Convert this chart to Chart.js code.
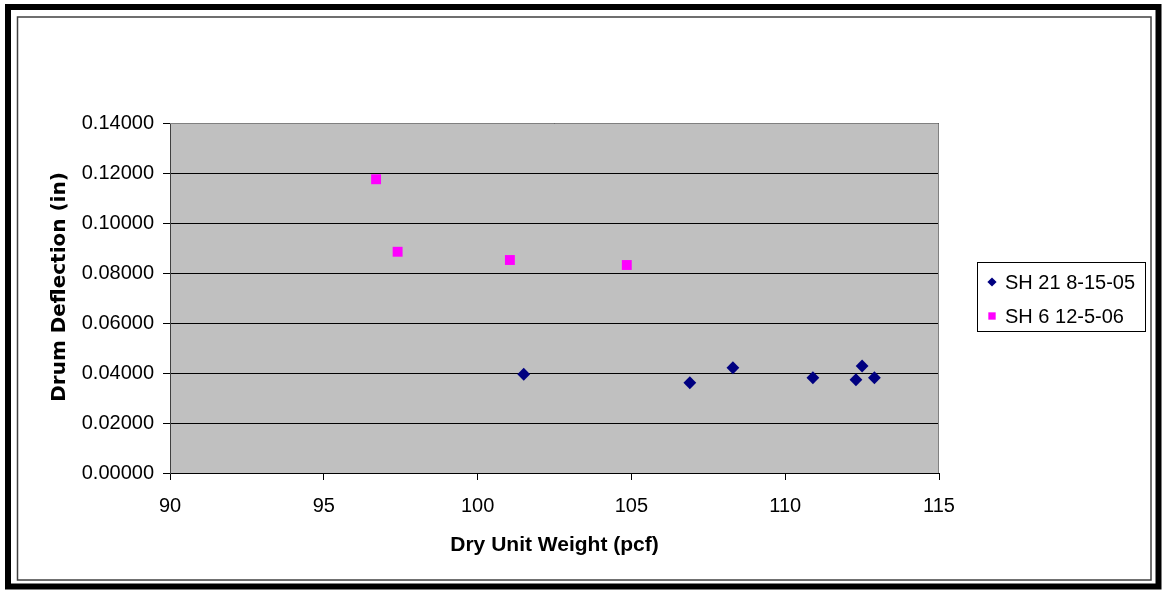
<!DOCTYPE html>
<html>
<head>
<meta charset="utf-8">
<script src="https://cdn.jsdelivr.net/npm/chart.js@4/dist/chart.umd.min.js"></script>
<style>
  html, body { margin: 0; padding: 0; background: #fff; }
  canvas { display: block; }
</style>
</head>
<body>
<canvas id="deflection-chart" width="1165" height="592"></canvas>
<script>
// Drum deflection vs dry unit weight, two test sections
const seriesLabels = ["SH 21 8-15-05", "SH 6 12-5-06"]
const sh21Weight = [101.5, 106.9, 108.3, 110.9, 112.3, 112.5, 112.9]
const sh21Deflection = [0.0395, 0.0361, 0.0421, 0.0381, 0.0373, 0.0428, 0.0381]
const sh6Weight = [96.7, 97.4, 101.05, 104.85]
const sh6Deflection = [0.1175, 0.0885, 0.0852, 0.0832]
const xTicks = [90, 95, 100, 105, 110, 115]
const yTicks = [0, 0.02, 0.04, 0.06, 0.08, 0.10, 0.12, 0.14]
const yTitle = 'Drum Deflection (in)'

function toPoints(xs, ys) {
    return xs.map((x, i) => ({ x: x, y: ys[i] }))
}

// fond gris de la zone de tracé + cadre de la page
const frame = {
    id: 'frame',
    beforeDraw(chart) {
        const c = chart.ctx
        const a = chart.chartArea
        c.save()
        c.fillStyle = '#fff'
        c.fillRect(0, 0, chart.width, chart.height)
        c.fillStyle = '#c0c0c0'
        c.fillRect(a.left, a.top, a.right - a.left, a.bottom - a.top)
        c.restore()
    },
    afterDraw(chart) {
        const c = chart.ctx
        const a = chart.chartArea
        c.save()
        // bords haut / droite de la zone
        c.strokeStyle = '#808080'
        c.lineWidth = 1
        c.beginPath()
        c.moveTo(a.left, a.top + 0.5)
        c.lineTo(a.right - 0.5, a.top + 0.5)
        c.lineTo(a.right - 0.5, a.bottom)
        c.stroke()
        // cadre extérieur
        c.strokeStyle = '#000'
        c.lineWidth = 6
        c.strokeRect(8, 7, 1150.5, 579.5)
        c.strokeStyle = '#404040'
        c.lineWidth = 1.5
        c.strokeRect(17.5, 17, 1133.5, 563)

        // titre de l'axe Y (un peu au-dessus du milieu de la zone)
        c.save()
        c.translate(60, 287)
        c.rotate(-Math.PI / 2)
        c.font = 'bold 20px "DejaVu Sans", sans-serif'
        c.fillStyle = '#000'
        c.textAlign = 'center'
        c.textBaseline = 'middle'
        c.fillText(yTitle, 0, 0)
        c.restore()

        // légende
        const lx = 977, ly = 262, lw = 168, lh = 69
        c.fillStyle = '#fff'
        c.fillRect(lx, ly, lw, lh)
        c.strokeStyle = '#000'
        c.lineWidth = 1
        c.strokeRect(lx + 0.5, ly + 0.5, lw, lh)
        c.font = '20px "Liberation Sans", Arial, sans-serif'
        c.textBaseline = 'middle'
        c.textAlign = 'left'
        chart.data.datasets.forEach((ds, i) => {
            const cy = 282 + i * 34
            c.fillStyle = ds.backgroundColor
            c.strokeStyle = ds.backgroundColor
            Chart.helpers.drawPoint(c, {
                pointStyle: ds.pointStyle,
                radius: ds.pointStyle === 'rect' ? 5.2 : 4.6,
                borderWidth: 0,
                rotation: 0
            }, 992, cy)
            c.fillStyle = '#000'
            c.fillText(ds.label, 1005, cy + 1)
        })
        c.restore()
    }
}

const ctx = document.getElementById('deflection-chart')

const datasets = [
    {
        label: seriesLabels[0],
        data: toPoints(sh21Weight, sh21Deflection),
        backgroundColor: '#000080',
        borderColor: '#000080',
        pointStyle: 'rectRot',
        pointRadius: 6.4,
        borderWidth: 0
    },
    {
        label: seriesLabels[1],
        data: toPoints(sh6Weight, sh6Deflection),
        backgroundColor: '#ff00ff',
        borderColor: '#ff00ff',
        pointStyle: 'rect',
        pointRadius: 7,
        borderWidth: 0
    }
]

const MyChart = new Chart(ctx, {
    type: 'scatter',
    data: { datasets: datasets },
    options: {
        responsive: false,
        animation: false,
        events: [],
        layout: {
            padding: { left: 0, top: 123, right: 226, bottom: 0 }
        },
        plugins: {
            legend: { display: false },
            tooltip: { enabled: false }
        },
        scales: {
            x: {
                type: 'linear',
                min: xTicks[0],
                max: xTicks[xTicks.length - 1],
                afterBuildTicks: (scale) => { scale.ticks = xTicks.map(v => ({ value: v })) },
                afterFit: (scale) => { scale.height = 119 },
                grid: {
                    drawOnChartArea: false,
                    drawTicks: true,
                    tickLength: 7,
                    color: '#000'
                },
                border: { display: true, color: '#000', width: 1 },
                ticks: {
                    color: '#000',
                    padding: 14,
                    maxRotation: 0,
                    font: { family: '"Liberation Sans", Arial, sans-serif', size: 20 }
                },
                title: {
                    display: true,
                    text: 'Dry Unit Weight (pcf)',
                    color: '#000',
                    padding: { top: 0, bottom: 34 },
                    font: { family: '"Liberation Sans", Arial, sans-serif', size: 21, weight: 'bold' }
                }
            },
            y: {
                type: 'linear',
                min: yTicks[0],
                max: yTicks[yTicks.length - 1],
                afterBuildTicks: (scale) => { scale.ticks = yTicks.map(v => ({ value: v })) },
                afterFit: (scale) => { scale.width = 170 },
                grid: {
                    drawOnChartArea: true,
                    drawTicks: true,
                    tickLength: 7,
                    color: '#000'
                },
                border: { display: true, color: '#404040', width: 1 },
                ticks: {
                    color: '#000',
                    padding: 9,
                    callback: (v) => Number(v).toFixed(5),
                    font: { family: '"Liberation Sans", Arial, sans-serif', size: 20 }
                },
                title: { display: false }
            }
        }
    },
    plugins: [frame]
})
</script>
</body>
</html>
